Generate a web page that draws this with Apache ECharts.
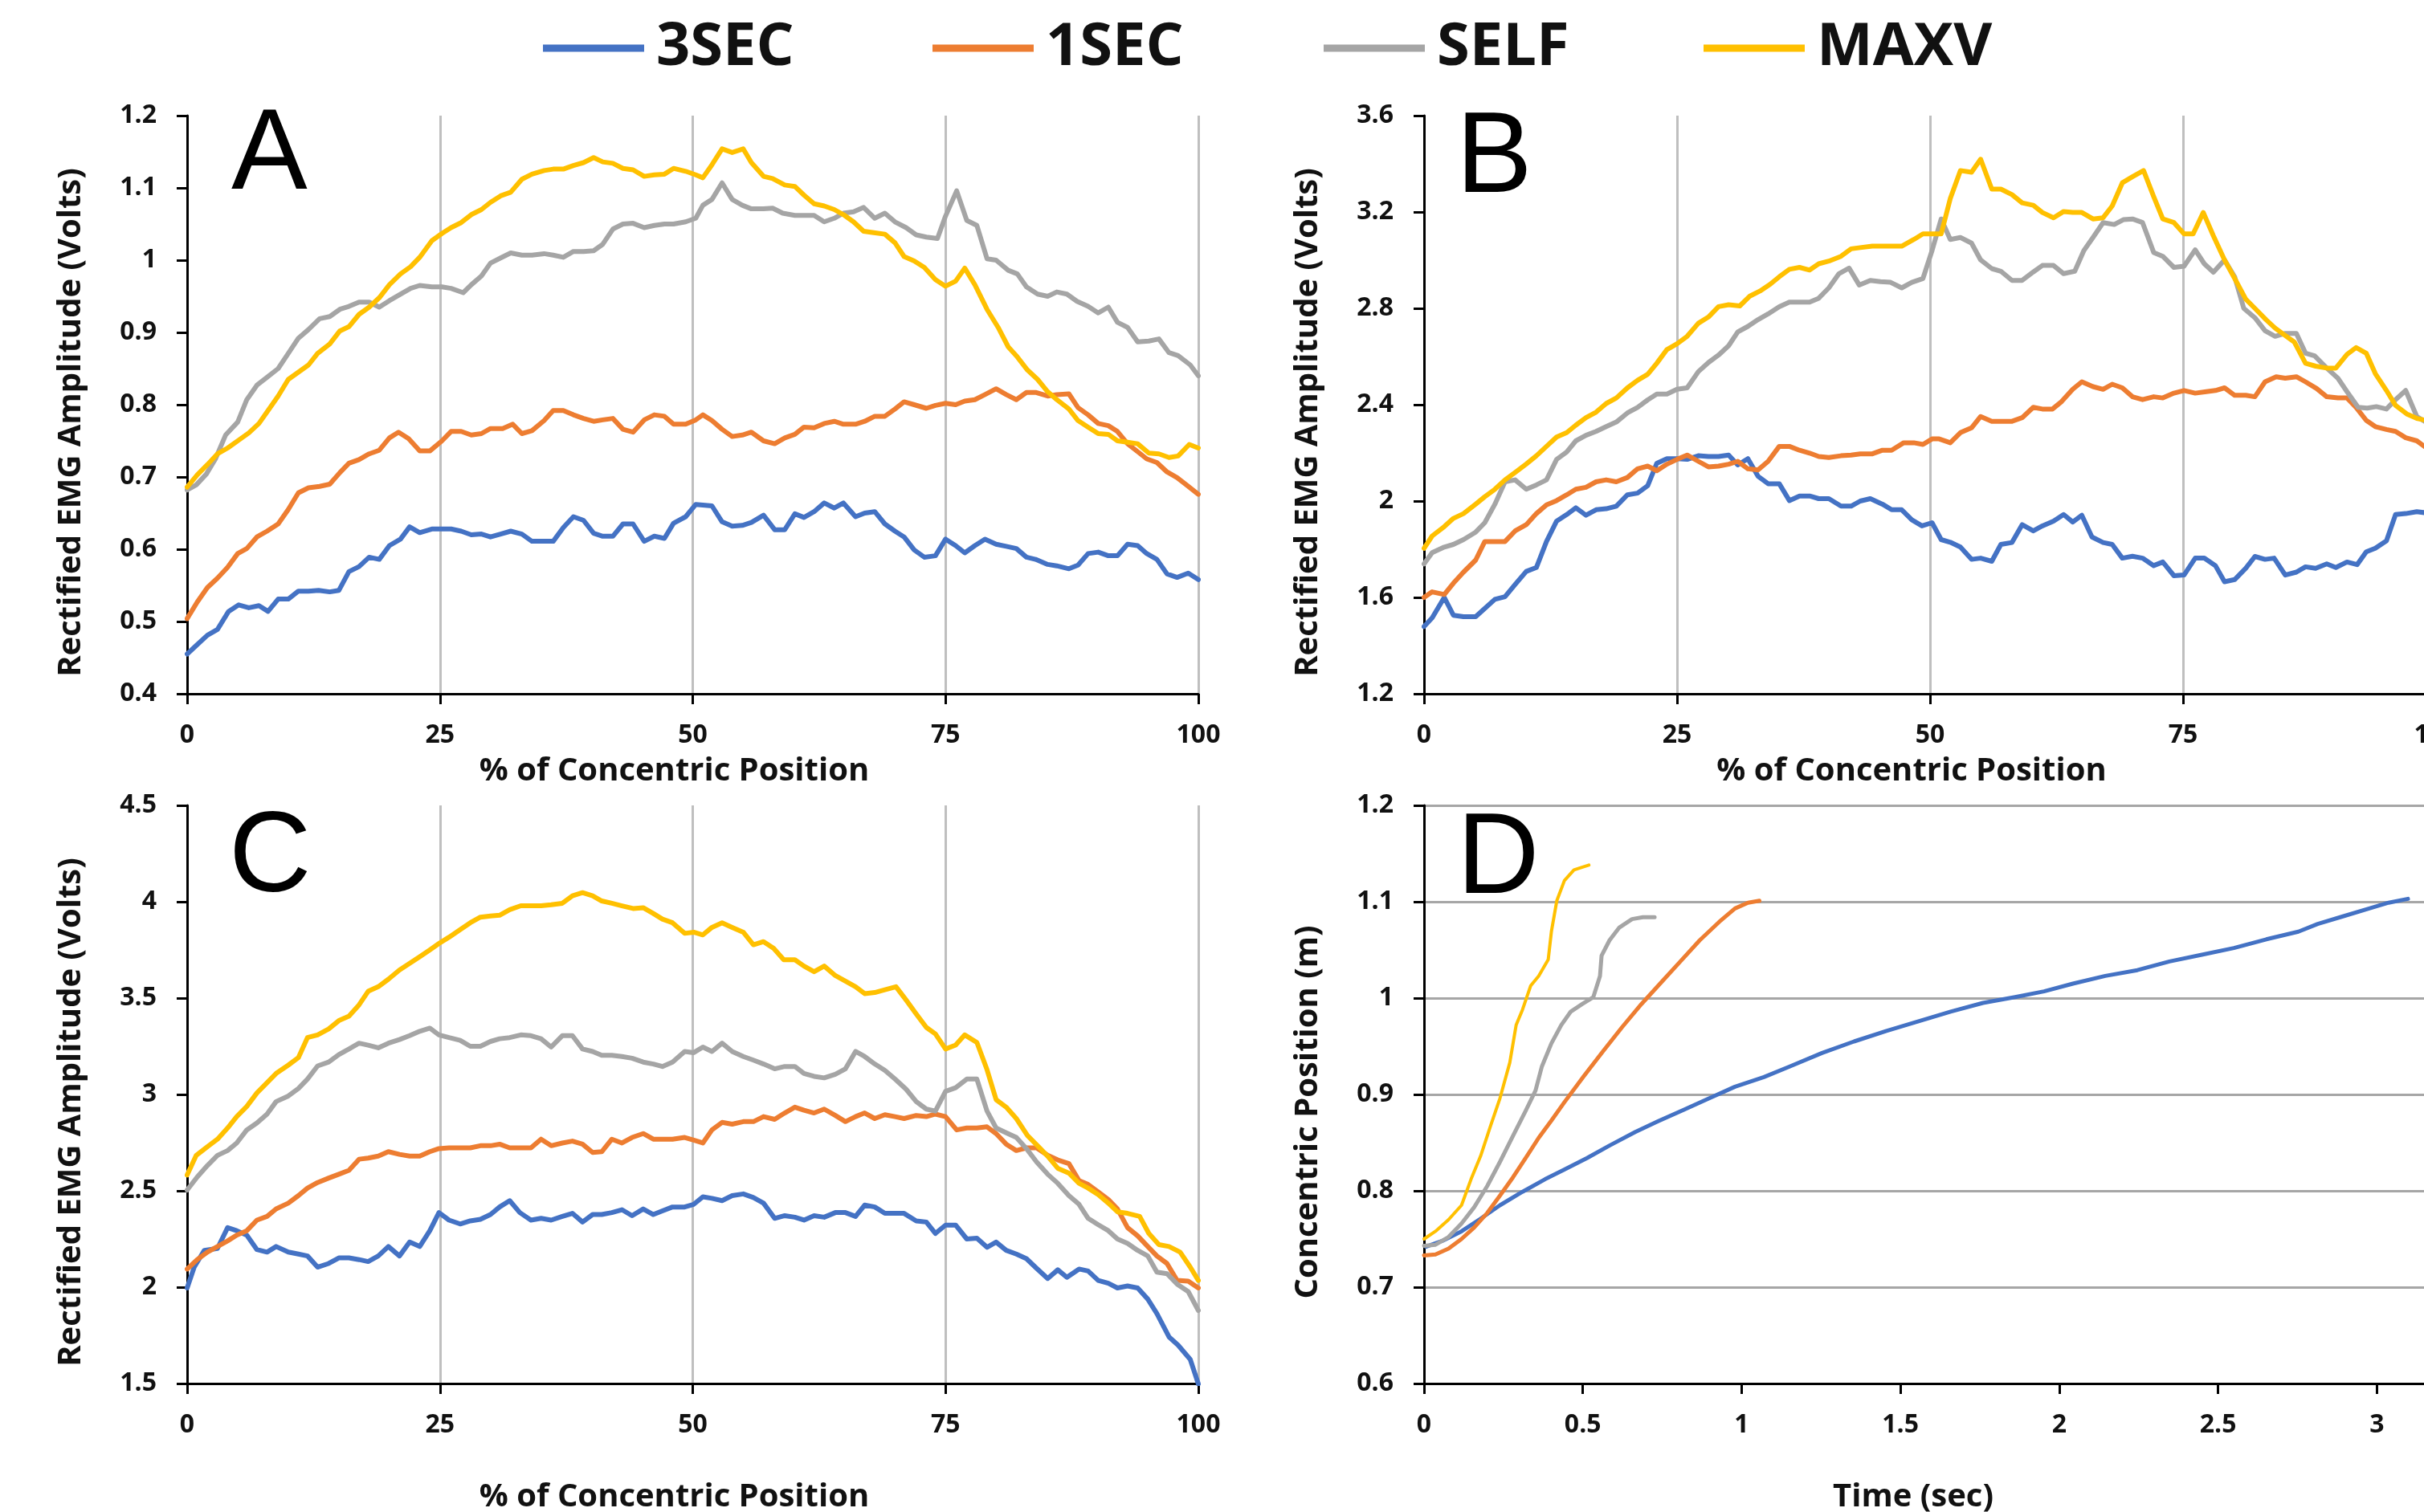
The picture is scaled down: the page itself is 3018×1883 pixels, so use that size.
<!DOCTYPE html>
<html>
<head>
<meta charset="utf-8">
<script src="https://cdn.jsdelivr.net/npm/echarts@6/dist/echarts.min.js"></script>
<style>
  html, body { margin: 0; padding: 0; background: #fff; }
  #chart { width: 3018px; height: 1883px; }
</style>
</head>
<body>
<div id="chart"></div>
<script>
// series names (legend order)
const NAMES = ["3SEC", "1SEC", "SELF", "MAXV"];
const COLORS = ["#4472C4", "#ED7D31", "#A5A5A5", "#FFC000"];

// ─── Panel A: % of concentric position vs EMG (V) ───
const A_3SEC = [[0,0.455],[1,0.468],[2,0.481],[3,0.489],[4.1,0.514],[5.1,0.523],[6.1,0.519],[7.1,0.522],[8,0.514],[9,0.531],[10,0.531],[11,0.542],[12,0.542],[13,0.543],[14.1,0.541],[15,0.543],[16,0.569],[17,0.576],[18,0.589],[19,0.586],[20,0.605],[21.1,0.614],[22,0.631],[23,0.623],[24.2,0.628],[25.2,0.628],[26.1,0.628],[27.1,0.625],[28.1,0.62],[29.1,0.621],[30,0.617],[31,0.621],[32,0.625],[33.1,0.621],[34.1,0.611],[35.1,0.611],[36.2,0.611],[37.2,0.63],[38.2,0.645],[39.2,0.64],[40.2,0.622],[41.1,0.618],[42.1,0.618],[43.1,0.635],[44.1,0.635],[45.2,0.611],[46.2,0.618],[47.2,0.615],[48.1,0.636],[49.3,0.645],[50.3,0.662],[51.9,0.66],[52.9,0.638],[53.9,0.632],[54.9,0.633],[55.8,0.637],[57,0.647],[58.1,0.627],[59.1,0.627],[60.1,0.649],[61,0.644],[62,0.652],[63,0.664],[64,0.657],[64.9,0.664],[66.1,0.645],[67,0.65],[68,0.652],[69,0.635],[70,0.625],[70.9,0.617],[71.9,0.599],[72.9,0.589],[74,0.591],[75,0.614],[76,0.605],[76.9,0.595],[77.9,0.605],[78.9,0.614],[80,0.607],[81,0.604],[82,0.601],[83,0.589],[83.9,0.586],[85.1,0.579],[86,0.577],[87.2,0.573],[88.1,0.578],[89.1,0.594],[90.1,0.596],[91.1,0.591],[92,0.591],[93,0.607],[94,0.605],[94.9,0.594],[95.9,0.586],[96.9,0.566],[97.9,0.561],[99,0.567],[100,0.558]];
const A_1SEC = [[0,0.504],[1,0.527],[2,0.547],[3,0.56],[4,0.575],[5,0.594],[5.9,0.601],[6.9,0.617],[7.9,0.625],[9,0.635],[10,0.655],[11,0.678],[12,0.685],[13.1,0.687],[14.1,0.69],[15.1,0.706],[16,0.719],[17,0.724],[18,0.732],[19,0.737],[20,0.754],[20.9,0.762],[21.9,0.753],[23,0.736],[24,0.736],[25.2,0.75],[26.1,0.763],[27.1,0.763],[28.1,0.758],[29.1,0.76],[30,0.767],[31.2,0.767],[32.2,0.773],[33.1,0.76],[34.1,0.764],[35.3,0.778],[36.2,0.792],[37.2,0.792],[38.2,0.786],[39.2,0.781],[40.2,0.777],[41.1,0.779],[42.1,0.781],[43.1,0.766],[44.1,0.762],[45.2,0.779],[46.2,0.786],[47.2,0.784],[48.1,0.773],[49.3,0.773],[50.3,0.779],[51,0.786],[51.9,0.778],[52.9,0.766],[53.9,0.756],[54.9,0.758],[55.8,0.762],[57,0.75],[58.1,0.746],[59.1,0.754],[60.1,0.759],[61,0.769],[62,0.768],[63,0.774],[64,0.777],[64.9,0.773],[66.1,0.773],[67,0.777],[68,0.784],[69,0.784],[70,0.794],[70.9,0.804],[71.9,0.8],[73.1,0.795],[74,0.799],[75,0.802],[76,0.8],[76.9,0.805],[77.9,0.807],[78.9,0.814],[80,0.822],[81,0.814],[82,0.807],[83,0.817],[83.9,0.817],[85.1,0.812],[86,0.814],[87.2,0.815],[88.1,0.796],[89.1,0.786],[90.1,0.774],[91.1,0.771],[92,0.763],[93,0.746],[94,0.735],[94.9,0.725],[95.9,0.72],[96.9,0.707],[97.9,0.699],[99,0.687],[100,0.676]];
const A_SELF = [[0,0.682],[0.9,0.689],[1.9,0.704],[2.8,0.725],[3.8,0.758],[5,0.776],[5.9,0.807],[6.9,0.827],[7.9,0.838],[9,0.85],[10,0.871],[11,0.892],[12,0.904],[13.1,0.919],[14.1,0.922],[15.1,0.932],[16,0.936],[17,0.942],[18,0.942],[19,0.935],[20,0.944],[21.1,0.953],[22.1,0.961],[23,0.965],[24.2,0.963],[25.2,0.963],[26.1,0.961],[27.3,0.955],[28.1,0.966],[29.1,0.978],[30,0.996],[31,1.003],[32,1.01],[33.1,1.007],[34.1,1.007],[35.3,1.009],[36.2,1.007],[37.2,1.004],[38.2,1.012],[39.2,1.012],[40.2,1.013],[41.1,1.022],[42.1,1.043],[43.1,1.05],[44.1,1.051],[45.2,1.045],[46.2,1.048],[47.2,1.05],[48.1,1.05],[49.3,1.053],[50.3,1.058],[51,1.076],[51.9,1.084],[52.9,1.107],[53.9,1.084],[54.9,1.076],[55.8,1.071],[57,1.071],[57.9,1.072],[58.9,1.065],[60.1,1.062],[61,1.062],[62,1.062],[63,1.053],[64,1.058],[64.9,1.065],[65.9,1.067],[66.9,1.073],[68,1.058],[69,1.065],[70,1.053],[71.1,1.045],[72.1,1.035],[73.1,1.032],[74.2,1.03],[75,1.061],[76.1,1.096],[77.1,1.055],[78.1,1.048],[79.1,1.002],[80,1],[81.2,0.986],[82.1,0.981],[83,0.963],[84.1,0.953],[85.1,0.95],[86,0.956],[87,0.953],[88,0.943],[89.1,0.936],[90.1,0.927],[91.1,0.935],[92,0.914],[93,0.907],[94,0.887],[95.1,0.888],[96.1,0.891],[97.1,0.872],[98,0.868],[99.2,0.855],[100,0.84]];
const A_MAXV = [[0,0.686],[1,0.703],[2,0.717],[3,0.732],[4,0.74],[5.1,0.751],[6.1,0.761],[7.1,0.774],[8,0.792],[9,0.812],[10,0.835],[11,0.845],[12,0.855],[12.9,0.871],[14.1,0.884],[15.1,0.902],[16,0.908],[17,0.925],[18,0.935],[19,0.948],[20,0.966],[21.1,0.981],[22.1,0.991],[23,1.004],[24.2,1.027],[25.2,1.037],[26.1,1.045],[27.1,1.052],[28.1,1.063],[29.1,1.07],[30,1.08],[31,1.089],[32,1.094],[33.1,1.112],[34.1,1.119],[35.3,1.124],[36.2,1.126],[37.2,1.126],[38.2,1.131],[39.2,1.135],[40.2,1.142],[41.1,1.136],[42.1,1.134],[43.1,1.127],[44.1,1.125],[45.2,1.116],[46.2,1.118],[47.2,1.119],[48.1,1.127],[49.3,1.123],[50.3,1.118],[51,1.114],[51.9,1.132],[52.9,1.154],[53.9,1.149],[55,1.154],[55.8,1.135],[57,1.116],[57.9,1.113],[59.1,1.104],[60.1,1.102],[61,1.09],[62,1.078],[63,1.075],[64,1.07],[64.9,1.063],[65.9,1.053],[66.9,1.04],[67.9,1.038],[69,1.036],[70,1.024],[70.9,1.005],[71.9,0.999],[72.9,0.99],[74,0.973],[75,0.964],[76,0.971],[76.9,0.989],[77.9,0.966],[79.1,0.932],[80.2,0.907],[81.2,0.88],[82.1,0.866],[83.1,0.848],[84.1,0.835],[85.1,0.818],[86,0.807],[87.2,0.794],[88.1,0.778],[89.1,0.769],[90.1,0.76],[91.1,0.759],[92,0.75],[93,0.748],[94,0.746],[95.1,0.733],[96.1,0.732],[97.1,0.727],[98,0.729],[99.1,0.745],[100,0.74]];

// ─── Panel B ───
const B_3SEC = [[0,1.479],[0.8,1.515],[2,1.6],[2.9,1.526],[3.9,1.52],[5.1,1.52],[6,1.554],[7,1.592],[8,1.603],[9,1.654],[10.1,1.708],[11.1,1.724],[12.1,1.832],[13.1,1.917],[14.1,1.944],[15,1.972],[16,1.941],[17,1.964],[18,1.968],[19,1.979],[20.1,2.026],[21.1,2.033],[22.1,2.064],[23,2.157],[24,2.176],[25,2.176],[26,2.173],[27.1,2.188],[28.1,2.185],[29.1,2.185],[30.1,2.191],[31,2.15],[32,2.176],[33,2.103],[34,2.072],[35.1,2.072],[36.1,2.002],[37.1,2.021],[38.1,2.021],[39,2.01],[40,2.01],[41.2,1.979],[42.2,1.979],[43.1,2],[44.1,2.01],[45.3,1.987],[46.2,1.964],[47.2,1.964],[48.2,1.922],[49.2,1.897],[50.2,1.91],[51.1,1.84],[52,1.829],[53,1.809],[54.1,1.758],[55,1.763],[56.1,1.75],[57,1.82],[58.1,1.828],[59.1,1.902],[60.2,1.876],[61.1,1.897],[62.2,1.917],[63.2,1.944],[64.1,1.913],[65,1.941],[66,1.851],[67.1,1.828],[68,1.82],[69,1.763],[70,1.771],[71,1.763],[72.1,1.732],[73,1.747],[74.1,1.69],[75.1,1.693],[76.2,1.763],[77.1,1.763],[78.2,1.732],[79.1,1.665],[80.1,1.674],[81.2,1.721],[82.1,1.77],[83.1,1.758],[84,1.763],[85.1,1.693],[86.2,1.705],[87.1,1.727],[88.1,1.721],[89.2,1.739],[90.1,1.724],[91.2,1.747],[92.2,1.736],[93.1,1.789],[94,1.804],[95.1,1.835],[96,1.944],[97,1.948],[98.1,1.956],[99,1.951],[100,1.95]];
const B_1SEC = [[0,1.6],[0.8,1.623],[2,1.612],[2.9,1.659],[3.9,1.705],[5.1,1.755],[6,1.832],[7,1.832],[8,1.832],[9,1.876],[10.1,1.902],[11.1,1.948],[12.1,1.984],[13.1,2.002],[14.1,2.026],[15,2.049],[16,2.057],[17,2.08],[18,2.088],[19,2.08],[20.1,2.098],[21.1,2.134],[22.1,2.145],[23,2.126],[24,2.153],[25,2.173],[26,2.191],[27.1,2.165],[28.1,2.142],[29.1,2.145],[30.1,2.153],[31,2.165],[32,2.134],[33,2.129],[34,2.165],[35.1,2.227],[36.1,2.227],[37.1,2.211],[38.1,2.199],[39,2.185],[40,2.181],[41.2,2.188],[42.2,2.191],[43.1,2.196],[44.3,2.196],[45.3,2.211],[46.2,2.211],[47.4,2.242],[48.4,2.242],[49.3,2.235],[50.2,2.258],[50.9,2.258],[52,2.242],[53,2.284],[54.1,2.304],[55,2.351],[56.1,2.331],[57,2.331],[58.1,2.331],[59.1,2.346],[60.2,2.389],[61.1,2.382],[62.1,2.382],[63,2.413],[64.1,2.464],[65,2.495],[66.1,2.475],[67.1,2.464],[68,2.485],[69,2.47],[70,2.433],[71,2.421],[72.1,2.433],[73,2.428],[74.1,2.448],[75.1,2.459],[76.2,2.448],[77.3,2.454],[78.2,2.459],[79.1,2.47],[80.1,2.439],[81.2,2.439],[82.1,2.433],[83.1,2.495],[84.2,2.516],[85.1,2.51],[86.2,2.516],[87.1,2.495],[88.2,2.467],[89.2,2.433],[90.3,2.428],[91.2,2.428],[92.1,2.389],[93.1,2.335],[94,2.309],[95.1,2.297],[96,2.289],[97,2.263],[98.1,2.25],[99,2.222],[100,2.2]];
const B_SELF = [[0,1.739],[0.8,1.786],[2,1.809],[2.9,1.82],[3.9,1.84],[5.1,1.871],[6,1.91],[7,1.987],[8,2.08],[9,2.088],[10.1,2.049],[11.1,2.067],[12.1,2.088],[13.1,2.173],[14.1,2.204],[15,2.25],[16,2.273],[17,2.289],[18,2.309],[19,2.328],[20.1,2.366],[21.1,2.389],[22.1,2.42],[23,2.444],[24,2.444],[25,2.464],[26,2.47],[27.1,2.537],[28.1,2.575],[29.1,2.606],[30.1,2.645],[31,2.702],[32,2.725],[33,2.753],[34,2.777],[35.1,2.807],[36.1,2.826],[37.1,2.826],[38.1,2.826],[39,2.842],[40,2.885],[41,2.944],[42,2.967],[43,2.897],[44.1,2.916],[45.1,2.911],[46.1,2.908],[47.2,2.885],[48.2,2.908],[49.3,2.924],[50.2,3.04],[51.1,3.171],[52,3.086],[53,3.094],[54.1,3.071],[55,3.001],[56.1,2.965],[57,2.954],[58.1,2.916],[59.1,2.916],[60.2,2.951],[61.1,2.978],[62.2,2.978],[63.2,2.944],[64.3,2.954],[65.2,3.04],[66.1,3.094],[67.1,3.156],[68.2,3.148],[69.1,3.168],[70,3.171],[71,3.156],[72.1,3.032],[73,3.016],[74.1,2.97],[75.1,2.975],[76.2,3.043],[77.1,2.985],[78,2.95],[79.1,3.001],[80.1,2.931],[81,2.8],[82.1,2.761],[83.1,2.707],[84.1,2.684],[85.1,2.696],[86.2,2.696],[87.1,2.614],[88,2.603],[89.2,2.552],[90.3,2.51],[91.2,2.454],[92.3,2.389],[93.2,2.386],[94.1,2.392],[95.1,2.382],[96,2.421],[97,2.459],[98.1,2.351],[99,2.328],[100,2.3]];
const B_MAXV = [[0,1.804],[0.8,1.855],[2,1.894],[2.9,1.928],[3.9,1.948],[5.1,1.987],[6,2.018],[7,2.049],[8,2.088],[9,2.119],[10.1,2.154],[11.1,2.188],[12.1,2.227],[13.1,2.266],[14.1,2.284],[15,2.315],[16,2.346],[17,2.369],[18,2.405],[19,2.428],[20.1,2.47],[21.1,2.501],[22.1,2.526],[23,2.572],[24,2.629],[25,2.653],[26,2.684],[27.1,2.738],[28.1,2.764],[29.1,2.807],[30.1,2.815],[31.2,2.81],[32.2,2.851],[33.2,2.872],[34.2,2.9],[35.1,2.931],[36.1,2.962],[37.1,2.97],[38.1,2.959],[39,2.985],[40,2.996],[41.2,3.016],[42.2,3.047],[43.1,3.052],[44.3,3.058],[45.3,3.058],[46.2,3.058],[47.2,3.058],[48.4,3.086],[49.3,3.109],[50.2,3.109],[51.1,3.109],[52,3.256],[53,3.372],[54.1,3.365],[55,3.419],[56.1,3.295],[57,3.295],[58.1,3.272],[59.1,3.238],[60.2,3.228],[61.1,3.198],[62.2,3.176],[63.2,3.202],[64.1,3.198],[65,3.198],[66.1,3.171],[67.1,3.176],[68,3.225],[69,3.321],[70,3.346],[71.1,3.372],[72.1,3.264],[73,3.171],[74.1,3.156],[75.1,3.109],[76,3.109],[77,3.198],[78,3.101],[79.1,3.001],[80.1,2.924],[81.2,2.838],[82.1,2.8],[83.2,2.753],[84.1,2.718],[85.1,2.687],[86,2.66],[87.1,2.572],[88.1,2.56],[89.2,2.552],[90.1,2.552],[91.2,2.609],[92.1,2.637],[93.1,2.614],[94,2.529],[95.1,2.459],[96,2.397],[97.1,2.362],[98.1,2.343],[99,2.335],[100,2.33]];

// ─── Panel C ───
const C_3SEC = [[0,1.996],[0.7,2.104],[1.7,2.191],[3,2.201],[4,2.309],[4.9,2.293],[5.9,2.27],[6.9,2.195],[7.9,2.182],[8.8,2.211],[10,2.182],[11,2.172],[11.9,2.162],[12.9,2.104],[14,2.123],[15,2.152],[16,2.152],[17,2.143],[17.9,2.133],[18.9,2.162],[19.9,2.211],[21,2.162],[22,2.234],[23,2.211],[24,2.293],[24.9,2.387],[25.9,2.348],[27,2.328],[28,2.344],[29,2.352],[30,2.377],[30.9,2.416],[31.9,2.449],[32.9,2.387],[34,2.348],[35,2.357],[36,2.348],[37.1,2.367],[38.1,2.383],[39.1,2.338],[40.1,2.377],[41,2.377],[42,2.387],[43,2.402],[44,2.371],[45.1,2.406],[46.1,2.377],[47,2.396],[48,2.416],[49.2,2.416],[50.1,2.43],[51,2.469],[51.9,2.461],[52.9,2.449],[53.9,2.475],[55,2.484],[56,2.465],[57,2.436],[58.1,2.357],[59.1,2.371],[60.1,2.363],[61,2.348],[62,2.371],[63,2.363],[64.1,2.387],[65.1,2.387],[66.1,2.367],[67,2.426],[68,2.416],[69,2.383],[70,2.383],[70.9,2.383],[72.1,2.344],[73.1,2.338],[74,2.279],[75,2.322],[76,2.322],[77.1,2.25],[78.1,2.254],[79.1,2.207],[80,2.234],[81,2.191],[82,2.172],[83,2.148],[84,2.098],[85.1,2.045],[86.1,2.09],[87,2.051],[88.2,2.094],[89.1,2.084],[90.1,2.035],[91.1,2.02],[92,1.996],[93,2.006],[94,1.996],[95,1.938],[95.9,1.863],[97.1,1.742],[98,1.699],[99.2,1.625],[100,1.498]];
const C_1SEC = [[0,2.094],[1,2.143],[2,2.182],[3,2.211],[4,2.24],[4.9,2.27],[5.9,2.293],[6.9,2.348],[7.9,2.367],[8.8,2.406],[10,2.436],[11,2.475],[11.9,2.514],[12.9,2.543],[14,2.566],[15,2.586],[16,2.606],[17,2.664],[17.9,2.67],[18.9,2.68],[19.9,2.703],[21,2.689],[22,2.68],[23,2.68],[24,2.703],[24.9,2.719],[25.9,2.723],[27,2.723],[28,2.723],[29,2.734],[30,2.734],[30.9,2.742],[31.9,2.723],[32.9,2.723],[34,2.723],[35,2.768],[36,2.734],[37.1,2.748],[38.1,2.758],[39.1,2.742],[40.1,2.699],[41,2.703],[42,2.768],[43,2.748],[44,2.777],[45.1,2.797],[46.1,2.768],[47,2.768],[48,2.768],[49.2,2.777],[50.1,2.763],[51,2.748],[51.9,2.816],[52.9,2.855],[53.9,2.846],[55,2.859],[56,2.859],[57,2.885],[58.1,2.871],[59.1,2.904],[60.1,2.934],[61,2.918],[62,2.904],[63,2.924],[64.1,2.891],[65.1,2.859],[66.1,2.885],[67,2.904],[68,2.875],[69,2.895],[70,2.885],[70.9,2.875],[72.1,2.891],[73.1,2.885],[74,2.898],[75,2.885],[76.1,2.816],[77.1,2.826],[78.1,2.826],[79.1,2.832],[80,2.797],[81,2.742],[82,2.709],[83,2.723],[84,2.723],[85.1,2.684],[86.1,2.66],[87.2,2.641],[88.2,2.553],[89.1,2.533],[90.1,2.494],[91.1,2.455],[92,2.406],[93,2.309],[94,2.266],[95,2.211],[95.9,2.162],[96.9,2.123],[97.9,2.035],[99,2.031],[100,1.996]];
const C_SELF = [[0,2.504],[1,2.572],[2,2.631],[3,2.684],[4,2.709],[4.9,2.748],[5.9,2.816],[6.9,2.852],[7.9,2.898],[8.8,2.963],[10,2.992],[11,3.031],[11.9,3.08],[12.9,3.148],[14,3.168],[15,3.207],[16,3.236],[17,3.266],[17.9,3.256],[18.9,3.242],[19.9,3.266],[21,3.285],[22,3.305],[23,3.328],[24,3.344],[24.9,3.309],[25.9,3.295],[27,3.281],[28,3.25],[29,3.25],[30,3.275],[30.9,3.289],[31.9,3.295],[33,3.309],[34,3.305],[35,3.289],[36,3.246],[37.1,3.305],[38.1,3.305],[39.1,3.236],[40.1,3.223],[41,3.203],[42,3.203],[43,3.197],[44,3.188],[45.1,3.168],[46.1,3.158],[47,3.145],[48,3.168],[49.2,3.223],[50.1,3.217],[51,3.246],[51.9,3.223],[52.9,3.266],[53.9,3.223],[55,3.197],[56,3.178],[57,3.158],[58.1,3.133],[59.1,3.145],[60.1,3.145],[61,3.109],[62,3.094],[63,3.086],[64.1,3.105],[65.1,3.133],[66.1,3.223],[67,3.197],[68,3.158],[69,3.125],[70,3.08],[71.1,3.027],[72.1,2.963],[73.1,2.924],[74,2.914],[75,3.016],[76,3.035],[77.1,3.08],[78.1,3.08],[79.1,2.914],[80,2.826],[81,2.801],[82,2.777],[83,2.719],[84,2.65],[85.1,2.586],[86.1,2.539],[87.2,2.475],[88.2,2.43],[89.1,2.357],[90.1,2.324],[91.1,2.293],[92,2.25],[93,2.227],[94,2.191],[95,2.162],[95.9,2.078],[96.9,2.07],[97.9,2.016],[99,1.977],[100,1.879]];
const C_MAXV = [[0,2.582],[0.9,2.684],[2,2.729],[3,2.768],[4,2.826],[4.9,2.885],[5.9,2.938],[6.9,3.008],[7.9,3.061],[8.8,3.109],[10,3.152],[11,3.191],[11.9,3.295],[12.9,3.309],[14,3.34],[15,3.383],[16,3.406],[17,3.465],[17.9,3.535],[18.9,3.559],[19.9,3.598],[21,3.646],[22,3.68],[23,3.715],[24,3.75],[24.9,3.783],[25.9,3.816],[27,3.855],[28,3.891],[29,3.92],[30,3.926],[30.9,3.93],[31.9,3.959],[33,3.979],[34,3.979],[35,3.979],[36,3.984],[37.1,3.992],[38.1,4.031],[39.1,4.047],[40.1,4.031],[41,4.004],[42,3.992],[43,3.979],[44.1,3.965],[45.1,3.969],[46.1,3.939],[47,3.91],[48,3.891],[49.2,3.836],[50.1,3.842],[51,3.828],[51.9,3.867],[52.9,3.891],[53.9,3.867],[55,3.842],[56,3.777],[57,3.793],[58,3.758],[59,3.699],[60.1,3.699],[61,3.666],[62,3.637],[63,3.666],[64.1,3.617],[65.1,3.588],[66.1,3.559],[67,3.523],[68,3.529],[69,3.543],[70.1,3.559],[71.1,3.49],[72.1,3.418],[73.1,3.348],[74,3.314],[75,3.236],[76,3.256],[76.9,3.309],[78.1,3.27],[79.1,3.129],[80,2.973],[81,2.934],[82,2.875],[83.1,2.787],[84.1,2.734],[85.1,2.68],[86.1,2.617],[87.2,2.592],[88.2,2.539],[89.1,2.514],[90.1,2.48],[91.1,2.436],[92,2.391],[93,2.383],[94.2,2.367],[95.1,2.279],[96.1,2.221],[97.1,2.211],[98.2,2.182],[99.2,2.104],[100,2.035]];

// ─── Panel D: time (s) vs concentric position (m) ───
const D_3SEC = [[0.006,0.742],[0.057,0.748],[0.118,0.758],[0.178,0.771],[0.239,0.785],[0.31,0.799],[0.381,0.812],[0.442,0.822],[0.513,0.834],[0.584,0.847],[0.665,0.861],[0.736,0.872],[0.817,0.884],[0.898,0.896],[0.979,0.908],[1.07,0.918],[1.151,0.929],[1.253,0.943],[1.354,0.955],[1.456,0.966],[1.557,0.976],[1.658,0.986],[1.76,0.995],[1.861,1.001],[1.952,1.007],[2.043,1.015],[2.145,1.023],[2.246,1.029],[2.347,1.038],[2.449,1.045],[2.55,1.052],[2.652,1.061],[2.753,1.069],[2.814,1.077],[2.895,1.085],[2.976,1.093],[3.037,1.099],[3.098,1.103]];
const D_1SEC = [[0,0.733],[0.036,0.734],[0.077,0.74],[0.118,0.75],[0.158,0.762],[0.199,0.777],[0.239,0.795],[0.28,0.814],[0.32,0.834],[0.361,0.855],[0.401,0.873],[0.442,0.892],[0.503,0.919],[0.564,0.945],[0.624,0.97],[0.685,0.994],[0.746,1.016],[0.807,1.038],[0.868,1.06],[0.929,1.079],[0.979,1.093],[1.02,1.099],[1.056,1.101]];
const D_SELF = [[0,0.743],[0.036,0.744],[0.077,0.752],[0.118,0.766],[0.158,0.783],[0.199,0.805],[0.239,0.83],[0.28,0.857],[0.32,0.883],[0.351,0.904],[0.371,0.929],[0.401,0.953],[0.432,0.972],[0.462,0.986],[0.499,0.994],[0.533,1.001],[0.554,1.023],[0.559,1.044],[0.584,1.06],[0.614,1.073],[0.655,1.082],[0.689,1.084],[0.726,1.084]];
const D_MAXV = [[0,0.75],[0.036,0.758],[0.077,0.77],[0.118,0.785],[0.148,0.812],[0.178,0.836],[0.209,0.867],[0.239,0.896],[0.27,0.933],[0.29,0.972],[0.31,0.988],[0.336,1.013],[0.361,1.023],[0.391,1.04],[0.401,1.069],[0.418,1.101],[0.442,1.122],[0.472,1.133],[0.499,1.136],[0.519,1.138]];

// axis titles / panel letters
const PANEL_LETTERS = ["A", "B", "C", "D"];
const X_TITLES = ["% of Concentric Position", "% of Concentric Position", "% of Concentric Position", "Time (sec)"];
const Y_TITLES = ["Rectified EMG Amplitude (Volts)", "Rectified EMG Amplitude (Volts)", "Rectified EMG Amplitude (Volts)", "Concentric Position (m)"];

const FONT = "Open Sans";
const INK = "#111";

const chart = echarts.init(document.getElementById("chart"), null, { renderer: "canvas" });

// grid geometry (px); the right-hand panels run past the picture edge, as in the source
const GRIDS = [
  { left: 233, top: 144, width: 1259, height: 720 },
  { left: 1773, top: 144, width: 1260, height: 720 },
  { left: 233, top: 1003, width: 1259, height: 720 },
  { left: 1773, top: 1003, width: 1384, height: 720 },
];
const Y_RANGES = [
  { min: 0.4, max: 1.2, interval: 0.1 },
  { min: 1.2, max: 3.6, interval: 0.4 },
  { min: 1.5, max: 4.5, interval: 0.5 },
  { min: 0.6, max: 1.2, interval: 0.1 },
];
const X_RANGES = [
  { min: 0, max: 100, interval: 25 },
  { min: 0, max: 100, interval: 25 },
  { min: 0, max: 100, interval: 25 },
  { min: 0, max: 3.5, interval: 0.5 },
];
const X_NAME_GAP = [77, 77, 122, 122];
const X_NAME_PAD = [[0, 46, 0, 0], [0, 46, 0, 0], [0, 46, 0, 0], [0, 166, 0, 0]];

const tickFmt = (v) => String(+v.toFixed(2));

const xAxes = GRIDS.map((g, i) => ({
  type: "value",
  gridIndex: i,
  ...X_RANGES[i],
  name: X_TITLES[i],
  nameLocation: "middle",
  nameGap: X_NAME_GAP[i],
  nameTextStyle: { fontFamily: FONT, fontWeight: "bold", fontSize: 40, color: INK, padding: X_NAME_PAD[i] },
  axisLine: { lineStyle: { color: "#000", width: 3 } },
  axisTick: { show: true, length: 13, lineStyle: { color: "#000", width: 3 } },
  axisLabel: { fontFamily: FONT, fontWeight: "bold", fontSize: 32, color: INK, margin: 36, formatter: tickFmt },
  splitLine: i < 3
    ? { show: true, lineStyle: { color: "#BFBFBF", width: 3 } }
    : { show: false },
}));

const yAxes = GRIDS.map((g, i) => ({
  type: "value",
  gridIndex: i,
  ...Y_RANGES[i],
  name: Y_TITLES[i],
  nameLocation: "middle",
  nameRotate: 90,
  nameGap: 124,
  nameTextStyle: { fontFamily: FONT, fontWeight: "bold", fontSize: 40, color: INK, padding: [0, 44, 0, 0] },
  axisLine: { show: true, lineStyle: { color: "#000", width: 3 } },
  axisTick: { show: true, length: 13, lineStyle: { color: "#000", width: 3 } },
  axisLabel: { fontFamily: FONT, fontWeight: "bold", fontSize: 32, color: INK, margin: 38, formatter: tickFmt },
  splitLine: i === 3
    ? { show: true, lineStyle: { color: "#A6A6A6", width: 3 } }
    : { show: false },
}));

const PANEL_DATA = [
  [A_3SEC, A_1SEC, A_SELF, A_MAXV],
  [B_3SEC, B_1SEC, B_SELF, B_MAXV],
  [C_3SEC, C_1SEC, C_SELF, C_MAXV],
  [D_3SEC, D_1SEC, D_SELF, D_MAXV],
];

const series = [];
PANEL_DATA.forEach((sets, p) => {
  sets.forEach((data, k) => {
    series.push({
      type: "line",
      name: NAMES[k],
      xAxisIndex: p,
      yAxisIndex: p,
      data,
      symbol: "none",
      smooth: false,
      z: 3,
      lineStyle: { color: COLORS[k], width: p === 3 ? (k === 3 ? 4 : 5) : 6, cap: "round", join: "round" },
      itemStyle: { color: COLORS[k] },
    });
  });
});

// one legend per entry so each sits where the original places it
const LEG_LEFT = [676, 1161, 1648, 2121];
const legend = NAMES.map((n, i) => ({
  data: [n],
  left: LEG_LEFT[i],
  top: 23,
  padding: 0,
  icon: "rect",
  itemWidth: 126,
  itemHeight: 9,
  selectedMode: false,
  textStyle: { fontFamily: FONT, fontWeight: "bold", fontSize: 74, color: INK, padding: [0, 0, 0, 10] },
}));

const LETTER_POS = [[288, 125], [1813, 129], [285, 1000], [1814, 1002]];
const graphic = PANEL_LETTERS.map((t, i) => ({
  type: "text",
  left: LETTER_POS[i][0],
  top: LETTER_POS[i][1],
  z: 10,
  style: { text: t, font: "142px 'Liberation Sans'", fill: "#000" },
}));

chart.setOption({
  animation: false,
  backgroundColor: "#fff",
  grid: GRIDS.map((g) => ({ ...g, containLabel: false, outerBoundsMode: "none" })),
  xAxis: xAxes,
  yAxis: yAxes,
  legend,
  graphic,
  series,
});
</script>
</body>
</html>
